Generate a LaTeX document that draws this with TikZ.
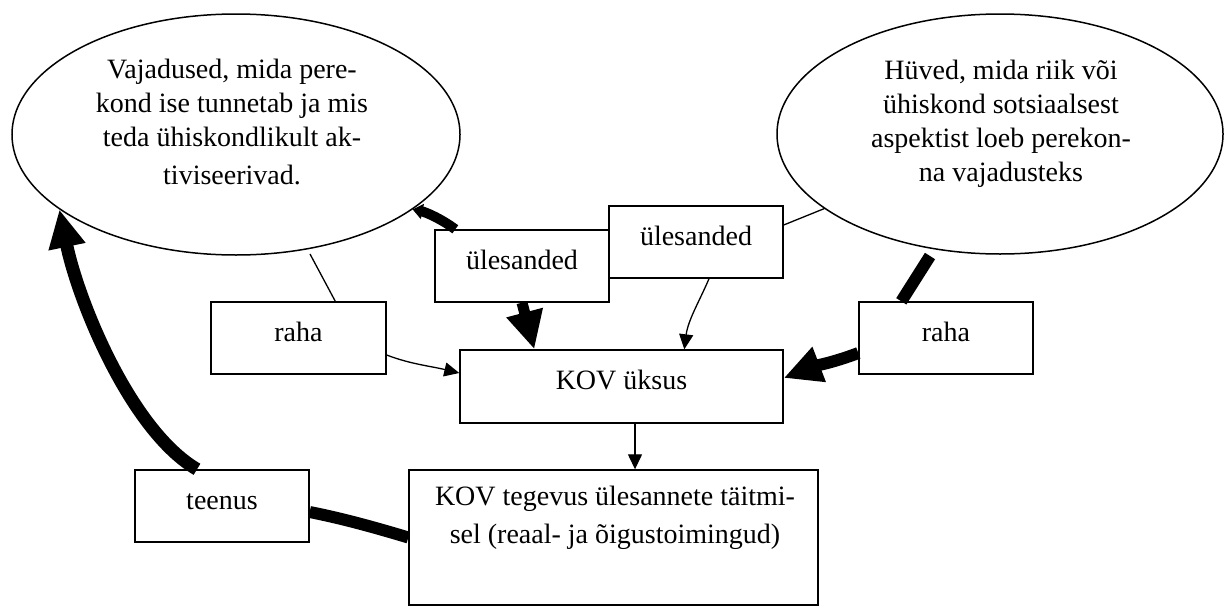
\documentclass[tikz,border=0pt]{standalone}
\usepackage{fontspec}
\setmainfont{Liberation Serif}
\usetikzlibrary{arrows.meta,shapes.geometric}
\tikzset{
  txt/.style={font=\fontsize{28}{34}\selectfont},
  box/.style={draw, line width=1.4pt, inner sep=0pt, txt, text height=19pt, text depth=13pt},
  oval/.style={draw, ellipse, line width=1.5pt, inner sep=0pt},
  thinline/.style={line width=1.3pt},
  thinarrow/.style={line width=1.3pt, -{Triangle[length=15pt,width=14pt]}},
  fatline/.style={line width=12pt},
  fatarrow/.style={line width=11pt, -{Triangle[length=38pt,width=35pt]}},
}
\begin{document}
\begin{tikzpicture}[x=1pt,y=-1pt]
\useasboundingbox (0,0) rectangle (1225,608);
\fill[white] (0,0) rectangle (1225,608);
% ellipses
\node[oval, minimum width=448pt, minimum height=241pt] (e1) at (236,134.5) {};
\node[txt, align=center, inner sep=0pt] (e1t) at (232,122) {Vajadused, mida pere-\\kond ise tunnetab ja mis\\teda ühiskondlikult ak-\\[4pt]tiviseerivad.};
\node[oval, minimum width=446pt, minimum height=240pt] (e2) at (1000,134) {};
\node[txt, align=center, inner sep=0pt] (e2t) at (1001,124) {Hüved, mida riik või\\ühiskond sotsiaalsest\\aspektist loeb perekon-\\na vajadusteks};
% boxes
\node[box, minimum width=174pt, minimum height=72pt] (u1) at (522,266) {ülesanded\hspace{16pt}};
\node[box, minimum width=174pt, minimum height=72pt] (u2) at (696,242) {ülesanded\hspace{18pt}};
\node[box, minimum width=175pt, minimum height=72pt] (r1) at (298.5,338) {raha};
\node[box, minimum width=174pt, minimum height=72pt] (r2) at (946,338) {raha};
\node[box, minimum width=323pt, minimum height=73pt] (k) at (621.5,386.5) {KOV üksus};
\node[box, minimum width=174pt, minimum height=72pt] (t) at (222,506) {teenus};
\node[draw, line width=1.4pt, inner sep=0pt, minimum width=409pt, minimum height=135pt] (kt) at (613.5,537.5) {};
\node[txt, align=center, inner sep=0pt, anchor=north] (ktt) at (615,486) {KOV tegevus ülesannete täitmi-\\[4pt]sel (reaal- ja õigustoimingud)};
% free ends
\coordinate (c1) at (310,254);
\coordinate (c2) at (930,256);
% connectors
\draw[line width=10pt, -{Triangle[length=10pt,width=15pt]}] ([xshift=21pt]u1.north west) .. controls (440,218) and (425,212) .. (e1.-23);
\draw[fatarrow] (u1.south) -- ([xshift=75pt]k.north west);
\draw[thinarrow] ([xshift=13pt]u2.south) .. controls (700,300) and (688,320) .. ([xshift=225pt]k.north west);
\draw[thinarrow] ([yshift=-17pt]r1.east) .. controls (410,364) and (430,366) .. ([yshift=13.5pt]k.west);
\draw[thinline] ([xshift=125pt]r1.north west) -- (c1);
\draw[thinline] ([yshift=17pt]u2.east) -- (e2.203);
\draw[fatline] (c2) -- ([xshift=43pt]r2.north west);
\draw[fatarrow, line width=12pt] ([yshift=-15pt]r2.west) .. controls (835,362) and (815,366) .. ([yshift=8.5pt]k.east);
\draw[thinarrow] ([xshift=13.5pt]k.south) -- ([xshift=13.5pt]k.south |- kt.north);
\draw[fatline] (kt.west) .. controls (370,526) and (340,518) .. ([yshift=-6pt]t.east);
\draw[fatarrow, line width=13pt] ([xshift=-25pt]t.north) .. controls (130,430) and (78,300) .. (e1.203);
\end{tikzpicture}
\end{document}
